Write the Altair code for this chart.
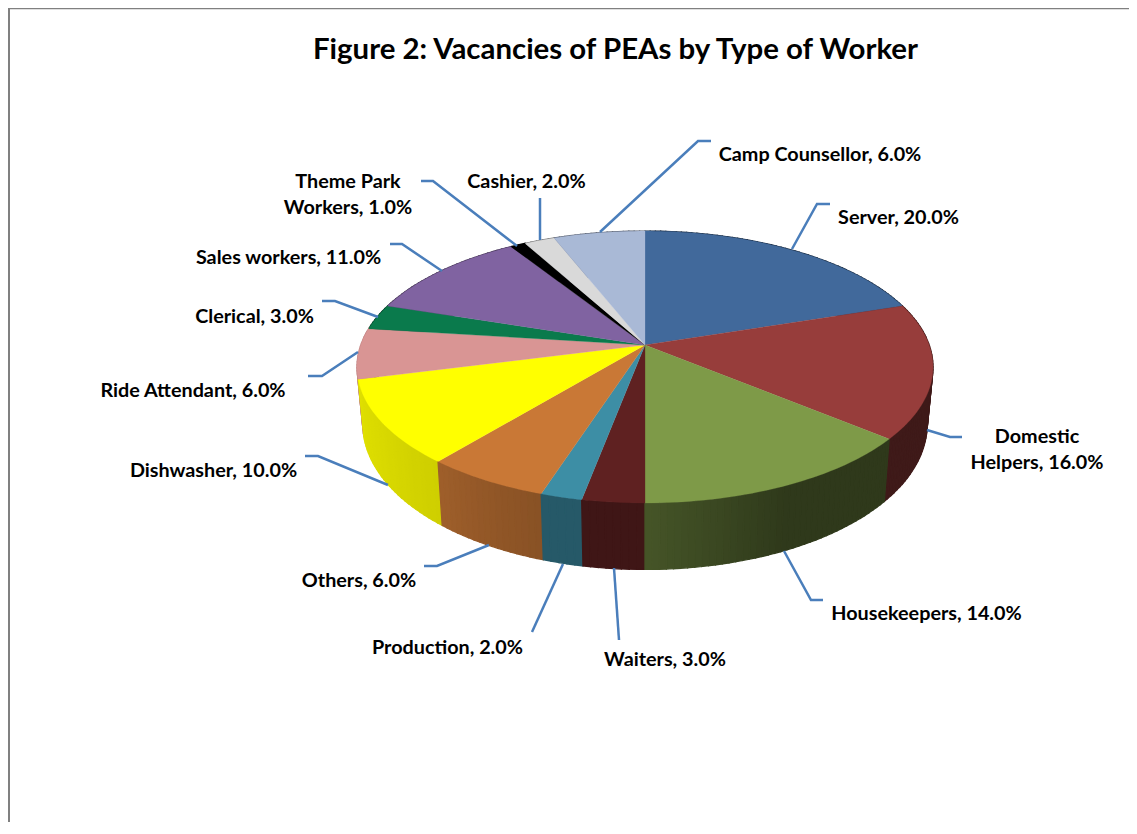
import math
import numpy as np
import altair as alt

# ---- chart values ----
categories = ["Server", "Domestic Helpers", "Housekeepers", "Waiters", "Production", "Others",
              "Dishwasher", "Ride Attendant", "Clerical", "Sales workers", "Theme Park Workers",
              "Cashier", "Camp Counsellor"]
shares = [20, 16, 14, 3, 2, 6, 10, 6, 3, 11, 1, 2, 6]
colors = ["#41699B", "#973D3B", "#7E9A48", "#5F2121", "#3D8EA5", "#C97836", "#FFFF00",
          "#D99594", "#0A7A4C", "#8063A1", "#000000", "#D9D9D9", "#A9B9D6"]
# wall shade at the start / middle / end of every slice (clockwise)
wall_shades = [(.40, .40, .40), (.42, .42, .42), (.37, .37, .55), (.66, .66, .66), (.63, .63, .63),
               (.68, .73, .79), (.81, .85, .88), (.90, .90, .90), (.5, .5, .5), (.5, .5, .5),
               (.5, .5, .5), (.5, .5, .5), (.5, .5, .5)]
title_text = "Figure 2: Vacancies of PEAs by Type of Worker"

# ---- layout (page pixels, the page margin is taken off below) ----
M = 8
label_rows = [
    ("Camp Counsellor, 6.0%", 820, 155), ("Server, 20.0%", 898.5, 218),
    ("Domestic", 1037, 437), ("Helpers, 16.0%", 1037, 463),
    ("Housekeepers, 14.0%", 926.5, 614), ("Waiters, 3.0%", 665, 660),
    ("Production, 2.0%", 447.5, 648), ("Others, 6.0%", 359, 581),
    ("Dishwasher, 10.0%", 213.5, 471), ("Ride Attendant, 6.0%", 193, 391),
    ("Clerical, 3.0%", 254.5, 317), ("Sales workers, 11.0%", 288.5, 258),
    ("Theme Park", 348, 182), ("Workers, 1.0%", 348, 208), ("Cashier, 2.0%", 526.5, 182),
]
leaders = [
    [(600, 232), (698, 141), (711, 141)], [(792, 249), (817, 204), (830, 204)],
    [(927, 430), (950, 437), (962, 437)], [(784, 551), (811, 600), (823, 600)],
    [(614, 568), (619, 640)], [(563, 564), (532, 632)],
    [(489, 545), (437, 566), (424, 566)], [(388, 485), (318, 456), (305, 456)],
    [(358, 352), (322, 376), (308, 376)], [(378, 317), (335, 301), (322, 301)],
    [(442, 271), (402, 244), (390, 244)], [(517, 246), (433, 181), (421, 181)],
    [(540, 240), (540, 198)],
]


def top_point(theta):
    u, v = math.sin(theta), -math.cos(theta)
    d = 1 - 0.1618 * v
    return (645 + 284.2 * u / d - M, 345 + 132.4 * v / d - M)


def bottom_point(theta):
    x, y = top_point(theta)
    v = -math.cos(theta)
    return (637 + (x - 637) * 0.98, y + 55 + 11.5 * v)


def shade(color, f):
    r, g, b = [int(color[i:i + 2], 16) for i in (1, 3, 5)]
    return "#%02x%02x%02x" % (round(r * f), round(g * f), round(b * f))


def feature(coords, color, closed=True):
    coords = [list(p) for p in coords]
    if closed:
        geom = {"type": "Polygon", "coordinates": [coords + [coords[0]]]}
    else:
        geom = {"type": "LineString", "coordinates": coords}
    return {"type": "Feature", "geometry": geom, "properties": {"color": color}}


walls, tops = [], []
edges = np.cumsum([0] + shares) / 100 * 2 * math.pi
apex = (645 - M, 345 - M)
for i, col in enumerate(colors):
    a, b = float(edges[i]), float(edges[i + 1])
    thetas = [float(t) for t in np.linspace(a, b, max(3, int(shares[i] * 3)))]
    tops.append(feature([apex] + [top_point(t) for t in thetas], col))
    for t0, t1 in zip(thetas[:-1], thetas[1:]):
        mid = (t0 + t1) / 2
        f = float(np.interp((mid - a) / (b - a), [0, .5, 1], wall_shades[i]))
        walls.append((-math.cos(mid), feature(
            [top_point(t0), top_point(t1), bottom_point(t1), bottom_point(t0)], shade(col, f))))
# far wall pieces first, so that nearer ones paint over them
walls = [w for _, w in sorted(walls, key=lambda p: p[0])]

lines = [feature([(x - M, y - M) for x, y in l], "#4A7EBB", closed=False) for l in leaders]

W, H = 1121, 814
PROJ = dict(type="identity", scale=1, translate=[0, 0])


def shapes(feats, **mark):
    return (alt.Chart(alt.Data(values=feats)).mark_geoshape(**mark)
            .encode(fill=alt.Color("properties.color:N", scale=None),
                    stroke=alt.Color("properties.color:N", scale=None))
            .project(**PROJ))


wall_layer = shapes(walls, strokeWidth=1.3)
top_layer = shapes(tops, strokeWidth=0.3)
line_layer = (alt.Chart(alt.Data(values=lines))
              .mark_geoshape(filled=False, strokeWidth=2.5)
              .encode(stroke=alt.Color("properties.color:N", scale=None))
              .project(**PROJ))

labels = alt.Chart(alt.Data(values=[{"t": t, "x": x - M, "y": y - M} for t, x, y in label_rows])).mark_text(
    font="Lato", fontWeight="bold", fontSize=19.8, color="#000000", align="center", baseline="middle"
).encode(x=alt.X("x:Q", scale=None, axis=None), y=alt.Y("y:Q", scale=None, axis=None), text="t:N")

title = alt.Chart(alt.Data(values=[{"t": title_text, "x": 615.5 - M, "y": 50 - M}])).mark_text(
    font="Lato", fontWeight="bold", fontSize=29.4, color="#000000", align="center", baseline="middle"
).encode(x=alt.X("x:Q", scale=None, axis=None), y=alt.Y("y:Q", scale=None, axis=None), text="t:N")

frame_v = alt.Chart(alt.Data(values=[{"a": 0}])).mark_rule(color="#808080", strokeWidth=2).encode(
    x=alt.value(1), y=alt.value(0), y2=alt.value(H))
frame_h = alt.Chart(alt.Data(values=[{"a": 0}])).mark_rule(color="#808080", strokeWidth=2).encode(
    y=alt.value(0.3), x=alt.value(0), x2=alt.value(W))

chart = (alt.layer(wall_layer, top_layer, line_layer, labels, title, frame_v, frame_h)
         .properties(width=W, height=H, padding=0, autosize=alt.AutoSizeParams(type="none"), background="white")
         .configure_view(stroke=None))

chart.save("out.html", embed_options={"renderer": "svg", "actions": False})
